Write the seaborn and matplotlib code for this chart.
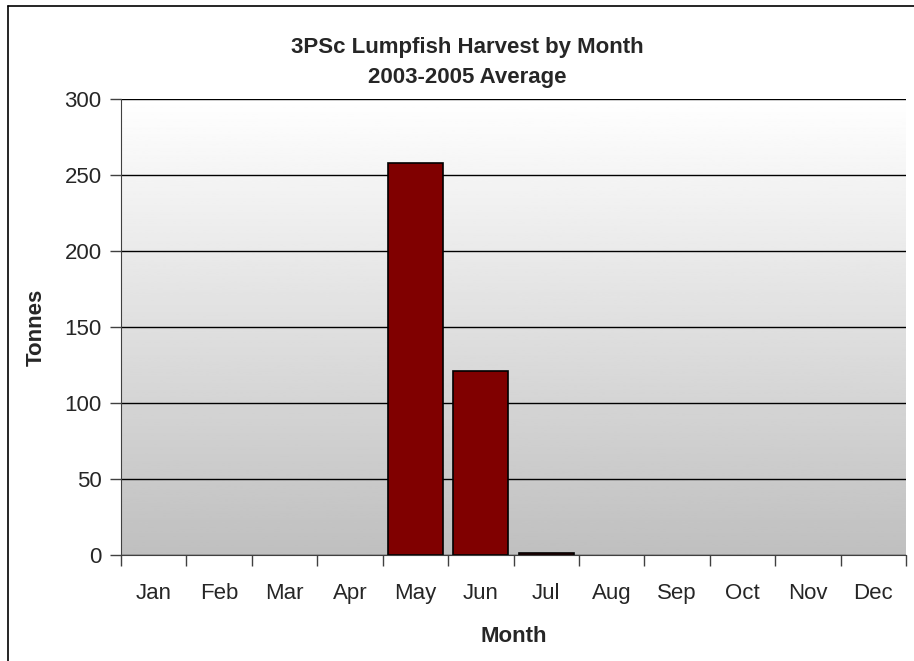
import numpy as np
import pandas as pd
import seaborn as sns
import matplotlib.pyplot as plt
from matplotlib.ticker import FixedLocator
from matplotlib.lines import Line2D

months = ["Jan", "Feb", "Mar", "Apr", "May", "Jun", "Jul", "Aug", "Sep", "Oct", "Nov", "Dec"]
tonnes = [0, 0, 0, 0, 258, 121, 1, 0, 0, 0, 0, 0]
y_ticks = [0, 50, 100, 150, 200, 250, 300]

sns.set_style("white")
plt.rcParams['font.family'] = ['Liberation Sans', 'DejaVu Sans']
fs = 16

df = pd.DataFrame({"Month": months, "Tonnes": tonnes})

fig = plt.figure(figsize=(9.14, 6.61), dpi=100)
ax = fig.add_axes([121 / 914, 1 - 555 / 661, (906 - 121) / 914, (555 - 99) / 661])

# gradient background: white at top, grey at bottom
grad = np.linspace(1.0, 0.75, 256).reshape(-1, 1)
ax.imshow(grad, cmap="gray", vmin=0, vmax=1, aspect="auto",
          extent=[-0.5, 11.5, 0, 300], zorder=0, origin="upper")

sns.barplot(data=df, x="Month", y="Tonnes", color="#800000", edgecolor="black",
            linewidth=1.2, width=0.84, saturation=1, ax=ax, zorder=3)

# empty months have no visible bar outline
for p in ax.patches:
    if p.get_height() == 0:
        p.set_visible(False)

ax.set_xlim(-0.5, 11.5)
ax.set_ylim(0, 300)
ax.set_yticks(y_ticks)
ax.yaxis.grid(True, color="black", linewidth=1)
ax.set_axisbelow(True)
for gl in ax.get_ygridlines():
    gl.set_zorder(1)

for side in ["top", "right"]:
    ax.spines[side].set_visible(False)
ax.spines["left"].set_color("#404040")
ax.spines["bottom"].set_color("#404040")
ax.spines["left"].set_zorder(4)
ax.spines["bottom"].set_zorder(4)

ax.tick_params(axis="y", direction="out", length=8, width=1, color="#404040",
               pad=6, labelsize=fs, left=True)
ax.tick_params(axis="x", which="major", length=0, pad=20, labelsize=fs, bottom=True)
ax.xaxis.set_minor_locator(FixedLocator(np.arange(-0.5, 12, 1)))
ax.tick_params(axis="x", which="minor", direction="out", length=8, width=1,
               color="#404040", bottom=True)

ax.set_xlabel("Month", fontsize=fs, fontweight="bold")
ax.set_ylabel("Tonnes", fontsize=fs, fontweight="bold")
ax.yaxis.set_label_coords(-0.094, 0.5)
ax.xaxis.set_label_coords(0.5, -0.156)

fig.text(467 / 914, 1 - 47 / 661, "3PSc Lumpfish Harvest by Month", ha="center", va="center",
         fontsize=fs, fontweight="bold")
fig.text(467 / 914, 1 - 77 / 661, "2003-2005 Average", ha="center", va="center",
         fontsize=fs, fontweight="bold")

# chart border (left and top visible)
fig.add_artist(Line2D([8 / 914, 8 / 914], [0, 1 - 6 / 661], transform=fig.transFigure,
                      color="black", linewidth=1.2))
fig.add_artist(Line2D([8 / 914, 1], [1 - 6 / 661, 1 - 6 / 661], transform=fig.transFigure,
                      color="black", linewidth=1.2))

fig.savefig("out.png", dpi=100)
